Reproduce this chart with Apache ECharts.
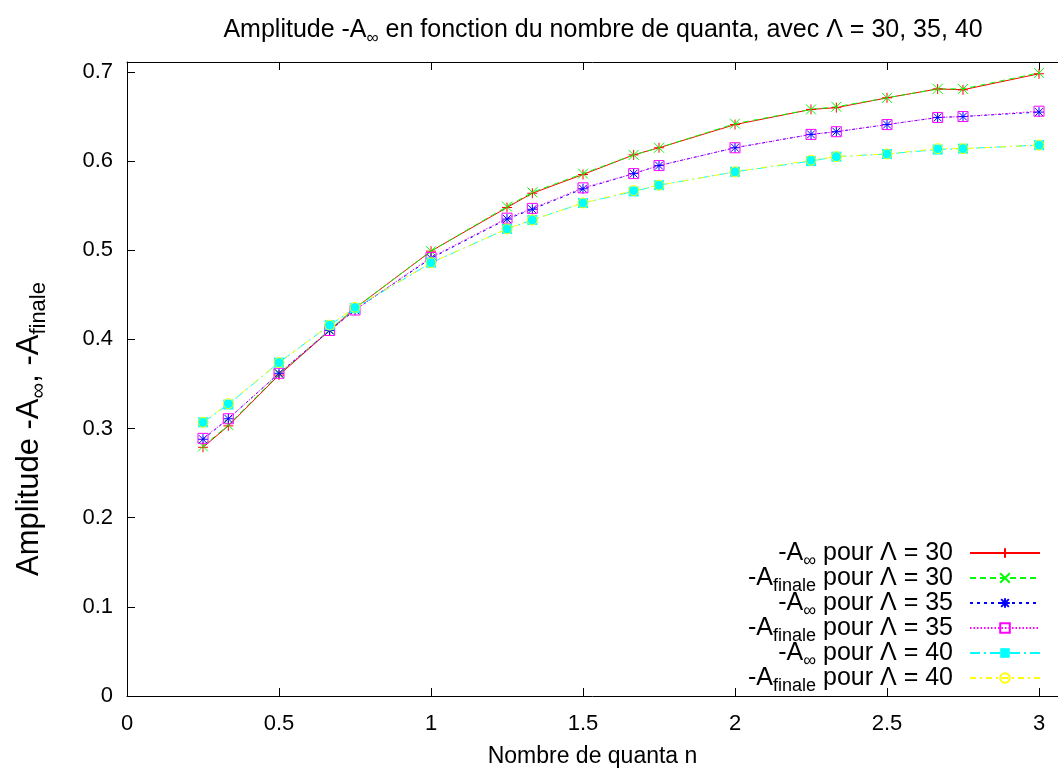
<!DOCTYPE html>
<html>
<head>
<meta charset="utf-8">
<title>Amplitude -A en fonction du nombre de quanta</title>
<script src="https://cdn.jsdelivr.net/npm/echarts@6/dist/echarts.min.js"></script>
<style>
  html, body { margin: 0; padding: 0; background: #fff; }
  #chart { width: 1058px; height: 773px; }
</style>
</head>
<body>
<div id="chart"></div>
<script>
// nombre de quanta n
const nValues = [0.25, 1 / 3, 0.5, 2 / 3, 0.75, 1, 1.25, 4 / 3, 1.5, 5 / 3, 1.75, 2, 2.25, 7 / 3, 2.5, 8 / 3, 2.75, 3];

// -A_inf et -A_finale pour Lambda = 30, 35, 40
const aInf30 = [0.279, 0.303, 0.360, 0.410, 0.435, 0.499, 0.548, 0.564, 0.585, 0.607, 0.615, 0.641, 0.658, 0.660, 0.671, 0.681, 0.680, 0.698];
const aFin30 = [0.280, 0.304, 0.361, 0.411, 0.435, 0.499, 0.549, 0.565, 0.586, 0.607, 0.615, 0.642, 0.658, 0.661, 0.671, 0.681, 0.681, 0.699];
const aInf35 = [0.288, 0.311, 0.362, 0.410, 0.433, 0.491, 0.535, 0.546, 0.569, 0.586, 0.595, 0.615, 0.630, 0.633, 0.641, 0.649, 0.650, 0.655];
const aFin35 = [0.289, 0.311, 0.362, 0.410, 0.433, 0.492, 0.536, 0.547, 0.570, 0.586, 0.595, 0.615, 0.630, 0.633, 0.641, 0.649, 0.650, 0.656];
const aInf40 = [0.307, 0.327, 0.374, 0.416, 0.435, 0.486, 0.524, 0.534, 0.553, 0.566, 0.573, 0.588, 0.600, 0.605, 0.608, 0.613, 0.614, 0.618];
const aFin40 = [0.307, 0.328, 0.374, 0.416, 0.436, 0.486, 0.524, 0.534, 0.553, 0.567, 0.573, 0.588, 0.601, 0.605, 0.608, 0.614, 0.614, 0.618];

const seriesNames = ["inf30", "fin30", "inf35", "fin35", "inf40", "fin40"];
const legendLabels = [
  "{n|-A}{s|∞}{e| pour Λ = 30}",
  "{n|-A}{s|finale}{e| pour Λ = 30}",
  "{n|-A}{s|∞}{e| pour Λ = 35}",
  "{n|-A}{s|finale}{e| pour Λ = 35}",
  "{n|-A}{s|∞}{e| pour Λ = 40}",
  "{n|-A}{s|finale}{e| pour Λ = 40}",
];

const FONT = "Liberation Sans";

// texte avec indices (legende)
const legendRich = {
  n: { fontFamily: FONT, fontSize: 25, lineHeight: 25, fontWeight: "normal", color: "#000" },
  e: { fontFamily: FONT, fontSize: 25, lineHeight: 25, fontWeight: "normal", color: "#000", padding: [0, 12, 0, 0] },
  s: { fontFamily: FONT, fontSize: 18, lineHeight: 18, fontWeight: "normal", color: "#000", padding: [16, 0, 0, 0] },
};
// titre
const titleRich = {
  n: { fontFamily: FONT, fontSize: 25, lineHeight: 25, fontWeight: "normal", color: "#000" },
  s: { fontFamily: FONT, fontSize: 17, lineHeight: 17, fontWeight: "normal", color: "#000", padding: [16, 0, 0, 0] },
};
// label axe y
const yNameRich = {
  n: { fontFamily: FONT, fontSize: 31, lineHeight: 31, fontWeight: "normal", color: "#000" },
  s: { fontFamily: FONT, fontSize: 22, lineHeight: 22, fontWeight: "normal", color: "#000", padding: [18, 0, 0, 0] },
};

function pairs(ys) {
  return nValues.map((x, i) => [x, ys[i]]);
}

function makeSeries(name, ys, color, dash, symbol, fill) {
  return {
    name: name,
    type: "line",
    data: pairs(ys),
    symbol: symbol,
    symbolSize: 10,
    showAllSymbol: true,
    animation: false,
    lineStyle: { color: color, width: 1, type: dash },
    itemStyle: {
      color: fill ? color : "rgba(0,0,0,0)",
      borderColor: color,
      borderWidth: fill ? 0 : 1,
    },
    emphasis: { disabled: true },
  };
}

const chart = echarts.init(document.getElementById("chart"));

const option = {
  backgroundColor: "#fff",
  animation: false,
  title: {
    text: "{n|Amplitude -A}{s|∞}{n| en fonction du nombre de quanta, avec Λ = 30, 35, 40}",
    left: 598,
    top: 13,
    textAlign: "center",
    textStyle: { fontWeight: "normal", rich: titleRich },
  },
  grid: { left: 127, right: 0, top: 62, bottom: 74, containLabel: false },
  legend: {
    orient: "vertical",
    right: 12,
    top: 531,
    align: "right",
    itemWidth: 70,
    itemHeight: 12,
    itemGap: -9,
    data: seriesNames,
    formatter: (name) => legendLabels[seriesNames.indexOf(name)],
    textStyle: { rich: legendRich },
  },
  xAxis: [
    {
      type: "value",
      min: 0,
      max: 3.0625,
      interval: 0.5,
      name: "Nombre de quanta n",
      nameLocation: "middle",
      nameGap: 49,
      nameTextStyle: { fontFamily: FONT, fontSize: 23, color: "#000" },
      splitLine: { show: false },
      axisLine: { lineStyle: { color: "#000", width: 1 } },
      axisTick: { inside: true, length: 8, lineStyle: { color: "#000" } },
      axisLabel: { showMaxLabel: false, margin: 17, fontFamily: FONT, fontSize: 22, color: "#000" },
    },
    {
      type: "value",
      position: "top",
      min: 0,
      max: 3.0625,
      interval: 0.5,
      splitLine: { show: false },
      axisLine: { lineStyle: { color: "#000", width: 1 } },
      axisTick: { inside: true, length: 8, lineStyle: { color: "#000" } },
      axisLabel: { show: false },
    },
  ],
  yAxis: {
    type: "value",
    min: 0,
    max: 0.7112,
    interval: 0.1,
    name: "{n|Amplitude -A}{s|∞}{n|, -A}{s|finale}",
    nameLocation: "middle",
    nameRotate: 90,
    nameGap: 82,
    nameTextStyle: { rich: yNameRich, padding: [0, 100, 0, 0] },
    splitLine: { show: false },
    axisLine: { lineStyle: { color: "#000", width: 1 } },
    axisTick: { inside: true, length: 8, lineStyle: { color: "#000" } },
    axisLabel: { showMaxLabel: false, margin: 14, fontFamily: FONT, fontSize: 22, color: "#000" },
  },
  series: [
    makeSeries("inf30", aInf30, "#ff0000", "solid", "path://M0,5L10,5M5,0L5,10", false),
    makeSeries("fin30", aFin30, "#00ff00", [6, 4], "path://M0,0L10,10M10,0L0,10", false),
    makeSeries("inf35", aInf35, "#0000ff", [3, 4], "path://M0,5L10,5M5,0L5,10M1,1L9,9M9,1L1,9", false),
    makeSeries("fin35", aFin35, "#ff00ff", [1.5, 2], "path://M0,0L10,0L10,10L0,10Z", false),
    makeSeries("inf40", aInf40, "#00ffff", [10, 4, 2, 4], "rect", true),
    makeSeries("fin40", aFin40, "#ffff00", [6, 4, 2, 4], "circle", false),
  ],
};

chart.setOption(option);
</script>
</body>
</html>
